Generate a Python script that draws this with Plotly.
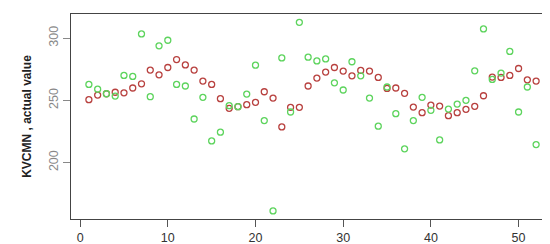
import plotly.graph_objects as go

# week index
weeks = list(range(1, 53))

# fitted values (red circles)
fitted = [250.5, 254.2, 255.3, 256.5, 256.0, 259.9, 263.3, 274.3, 270.5, 276.4,
          282.8, 278.5, 274.3, 265.5, 262.8, 251.3, 243.6, 244.9, 246.5, 248.4,
          256.9, 251.8, 228.6, 244.4, 244.4, 261.5, 267.9, 272.7, 276.4, 273.5,
          269.7, 274.0, 273.5, 268.4, 259.6, 259.9, 255.6, 244.6, 240.1, 246.2,
          245.4, 237.7, 240.1, 242.8, 245.2, 253.7, 268.7, 268.4, 270.0, 275.6,
          266.5, 265.5]

# actual values (green circles)
actual = [262.8, 259.0, 255.3, 253.4, 270.0, 269.2, 303.4, 252.9, 293.8, 298.3,
          262.8, 261.5, 235.0, 252.4, 217.4, 224.4, 245.7, 244.9, 255.0, 278.3,
          233.7, 161.1, 284.1, 240.6, 312.7, 284.7, 281.7, 283.3, 264.1, 258.3,
          281.0, 269.7, 251.8, 229.2, 260.7, 239.3, 211.0, 233.7, 252.4, 242.0,
          218.2, 243.0, 247.0, 250.0, 273.7, 307.4, 266.8, 271.9, 289.3, 240.6,
          260.7, 214.4]

fig = go.Figure()
fig.add_trace(go.Scatter(
    x=weeks, y=fitted, mode='markers',
    marker=dict(symbol='circle-open', size=6, color='#b8413f', line=dict(width=1.3)),
    hoverinfo='x+y'
))
fig.add_trace(go.Scatter(
    x=weeks, y=actual, mode='markers',
    marker=dict(symbol='circle-open', size=6, color='#5dd45d', line=dict(width=1.3)),
    hoverinfo='x+y'
))

fig.update_layout(
    width=550, height=244,
    margin=dict(l=63, r=4, t=6, b=33),
    paper_bgcolor='white', plot_bgcolor='white',
    showlegend=False,
    font=dict(family='Liberation Sans, Arial, sans-serif', size=12, color='#333'),
    xaxis=dict(
        range=[-1.04, 54.04], tickvals=[0, 10, 20, 30, 40, 50],
        showgrid=False, zeroline=False,
        showline=True, mirror=True, linecolor='#444', linewidth=1,
        ticks='outside', ticklen=7, tickcolor='#555',
        tickfont=dict(size=12.5, color='#333')
    ),
    yaxis=dict(
        range=[154.6, 319.4], tickvals=[200, 250, 300],
        showgrid=False, zeroline=False,
        showline=True, mirror=True, linecolor='#444', linewidth=1,
        ticks='outside', ticklen=7, tickcolor='#888',
        tickangle=-90,
        tickfont=dict(size=12.5, color='#888'),
        title=dict(text='<b>KVCMN , actual value</b>', font=dict(size=12, color='#222'),
                   standoff=12)
    )
)

fig.write_html("out.html")
